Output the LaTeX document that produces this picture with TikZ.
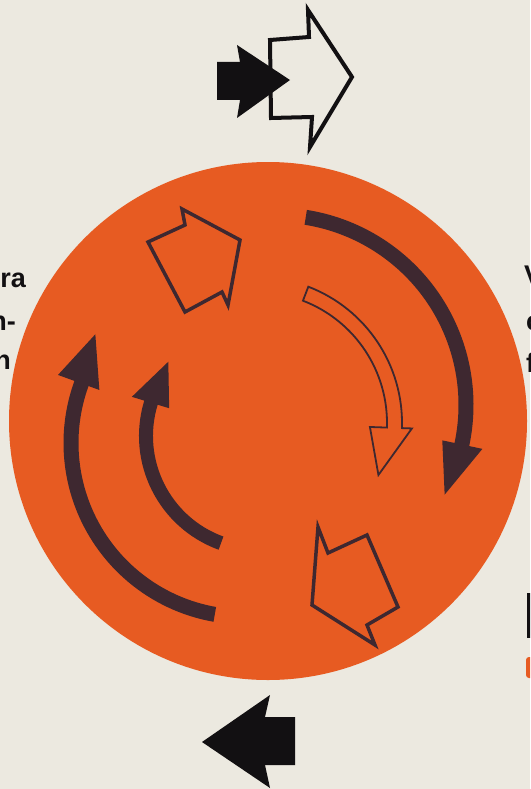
\documentclass[tikz,border=0pt]{standalone}
\usepackage{fontspec}
\setmainfont{Liberation Sans}
\definecolor{bg}{RGB}{236,233,224}
\definecolor{disc}{RGB}{231,91,34}
\definecolor{ink}{RGB}{62,40,48}
\definecolor{blk}{RGB}{18,16,18}
\begin{document}
\begin{tikzpicture}[x=1pt,y=1pt,
  bandfill/.style={fill=ink},
  openarrow/.style={draw=ink,line width=3.5pt,line join=miter,fill=disc},
  thinopen/.style={draw=ink,line width=1.8pt,line join=miter,fill=disc},
  lbl/.style={font=\bfseries\fontsize{27}{30}\selectfont,text=blk,inner sep=0pt}]
\useasboundingbox (0,0) rectangle (530,-789);
\clip (0,0) rectangle (530,-789);
\fill[bg] (0,0) rectangle (530,-789);
% disc
\fill[disc] (268,-421) circle[radius=259pt];

% right big arc
\begin{scope}[shift={(276,-405)}]
\fill[bandfill] (81:197.5pt) arc[start angle=81,end angle=-12,radius=197.5pt]
  -- (-12:211pt) -- (-28:191pt) -- (-12:170pt) -- (-12:182.5pt)
  arc[start angle=-12,end angle=81,radius=182.5pt] -- cycle;
\end{scope}

% left big arc
\begin{scope}[shift={(245,-443)}]
\fill[bandfill] (-100:181.5pt) arc[start angle=-100,end angle=-200,radius=181.5pt]
  -- (-200:199pt) -- (-216:185pt) -- (-200:155pt) -- (-200:166.5pt)
  arc[start angle=-200,end angle=-100,radius=166.5pt] -- cycle;
\end{scope}

% left inner arc
\begin{scope}[shift={(260,-436)}]
\fill[bandfill] (-110:121pt) arc[start angle=-110,end angle=-197,radius=121pt]
  -- (-197:134pt) -- (-219:118pt) -- (-197:95pt) -- (-197:107pt)
  arc[start angle=-197,end angle=-110,radius=107pt] -- cycle;
\end{scope}

% open curved arrow
\begin{scope}[shift={(256,-423)}]
\draw[thinopen] (69:146pt) arc[start angle=69,end angle=-2,radius=146pt]
  -- (-2:156pt) -- (-23:133pt) -- (-2:114pt) -- (-2:131pt)
  arc[start angle=-2,end angle=69,radius=131pt] -- cycle;
\end{scope}

% open block arrows on the disc
\draw[openarrow] (182,-209) -- (240,-240) -- (228,-305) -- (222,-292) -- (185,-312) -- (148,-242) -- (185,-225) -- cycle;
\draw[openarrow] (318,-527) -- (328,-553) -- (367,-535) -- (398,-607) -- (367,-625) -- (375,-645) -- (312,-605) -- cycle;

% top arrows
\draw[draw=blk,line width=4pt,line join=miter,fill=bg] (270,-40) -- (309,-37) -- (308,-10) -- (352,-77) -- (310,-147) -- (312,-117) -- (271,-118) -- cycle;
\fill[blk] (217,-62) -- (240,-62) -- (237,-45) -- (290,-80) -- (237,-118) -- (240,-100) -- (217,-100) -- cycle;

% bottom arrow
\fill[blk] (202,-742) -- (270,-695) -- (265,-717) -- (295,-717) -- (295,-765) -- (265,-765) -- (270,-788) -- cycle;

% cut-off side texts
\node[lbl,anchor=base east] (l1) at (26,-287) {ra};
\node[lbl,anchor=base east] (l2) at (16,-330) {n-};
\node[lbl,anchor=base east] (l3) at (11,-369) {n};
\node[lbl,anchor=base west] (r1) at (524,-284) {V};
\node[lbl,anchor=base west] (r2) at (526,-330) {c};
\node[lbl,anchor=base west] (r3) at (526,-372) {f};

% cut-off side marks
\fill[blk] (527,-593) rectangle (533,-638);
\fill[disc,rounded corners=3pt] (526,-657) rectangle (536,-678);
\end{tikzpicture}
\end{document}
